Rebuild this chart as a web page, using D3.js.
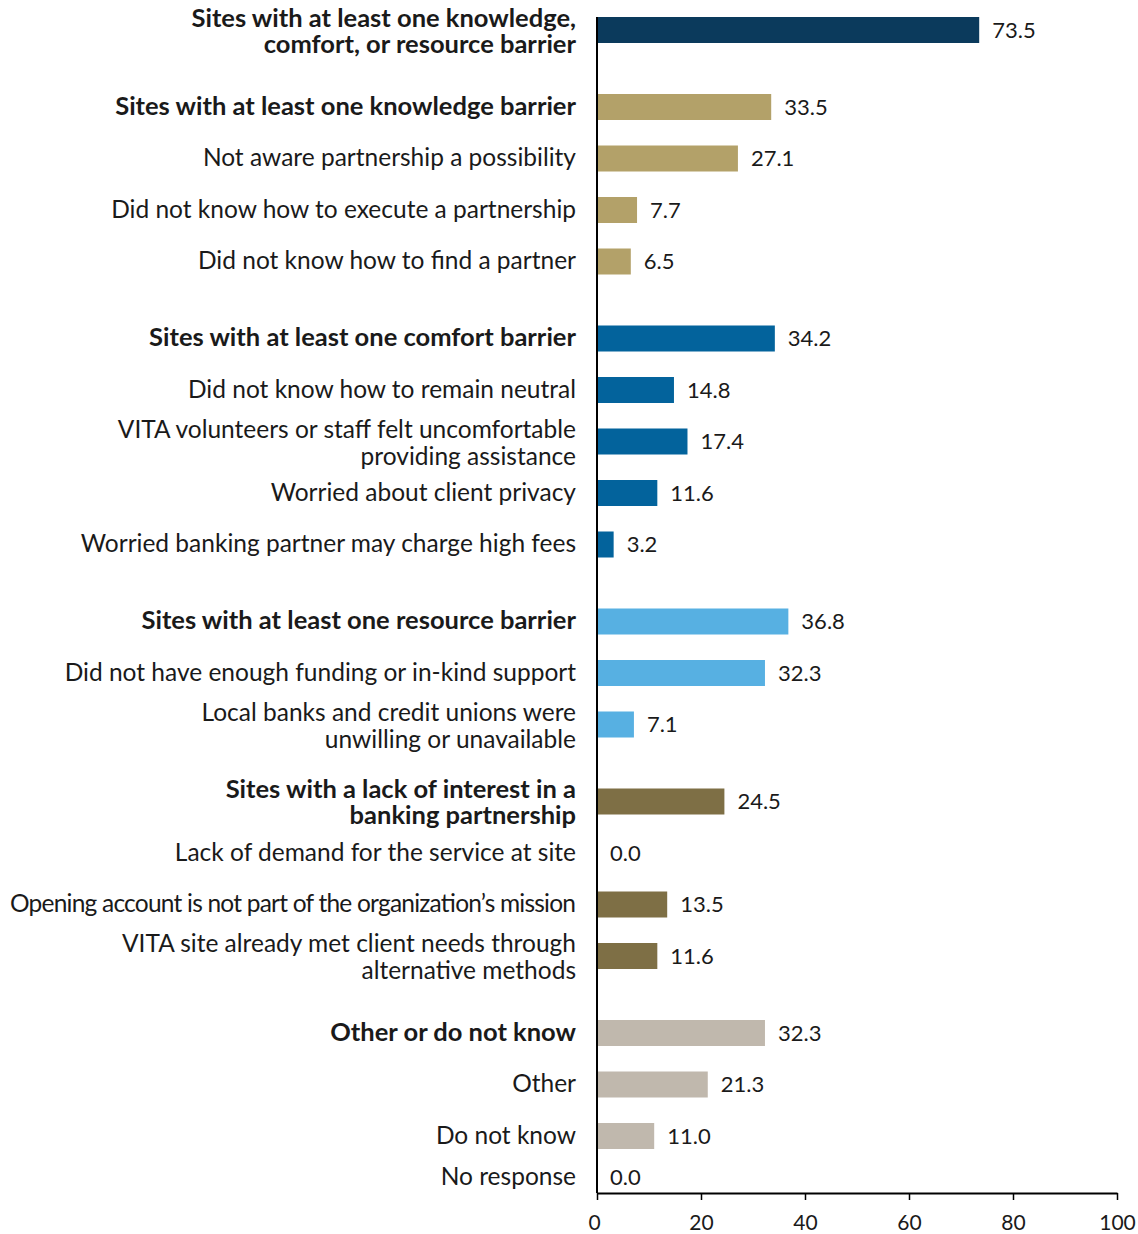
<!DOCTYPE html>
<html lang="en">
<head>
<meta charset="UTF-8">
<title>Barriers to banking partnerships</title>
<script src="https://d3js.org/d3.v7.min.js"></script>
<style>
    body { margin: 0; background: #fff; }
    svg text { font-family: Lato, "Open Sans", sans-serif; fill: #1a1a1a; }
</style>
</head>
<body>
<svg id="chart" width="1138" height="1234"></svg>
<script>
// rows, top to bottom
const labels = [
    "Sites with at least one knowledge,\ncomfort, or resource barrier",
    "Sites with at least one knowledge barrier",
    "Not aware partnership a possibility",
    "Did not know how to execute a partnership",
    "Did not know how to find a partner",
    "Sites with at least one comfort barrier",
    "Did not know how to remain neutral",
    "VITA volunteers or staff felt uncomfortable\nproviding assistance",
    "Worried about client privacy",
    "Worried banking partner may charge high fees",
    "Sites with at least one resource barrier",
    "Did not have enough funding or in-kind support",
    "Local banks and credit unions were\nunwilling or unavailable",
    "Sites with a lack of interest in a\nbanking partnership",
    "Lack of demand for the service at site",
    "Opening account is not part of the organization\u2019s mission",
    "VITA site already met client needs through\nalternative methods",
    "Other or do not know",
    "Other",
    "Do not know",
    "No response"
];
const values = [73.5, 33.5, 27.1, 7.7, 6.5, 34.2, 14.8, 17.4, 11.6, 3.2, 36.8, 32.3, 7.1, 24.5, 0.0, 13.5, 11.6, 32.3, 21.3, 11.0, 0.0];
// which block each row belongs to
const groups = [0, 1, 1, 1, 1, 2, 2, 2, 2, 2, 3, 3, 3, 4, 4, 4, 4, 5, 5, 5, 5];
// summary rows are drawn in bold
const bold = [1, 1, 0, 0, 0, 1, 0, 0, 0, 0, 1, 0, 0, 1, 0, 0, 0, 1, 0, 0, 0];
const groupColors = ["#0b3a5c", "#b3a169", "#03639c", "#57b0e2", "#7e6f45", "#c0b8ad"];
const xTicks = [0, 20, 40, 60, 80, 100];

const svg = d3.select("#chart");
const x0 = 597, x1 = 1117, axisY = 1193;
const step = 51.5, groupGap = 25.5, firstY = 30, barH = 26;

const x = d3.scaleLinear().domain([0, 100]).range([x0, x1]);

// row centre: one step per row plus an extra gap for every new block
const slot = values.map((v, i) => i * step + groups[i] * groupGap);
const y = d3.scaleLinear().domain([0, step]).range([firstY, firstY + step]);
const rowY = i => Math.min(y(slot[i]), axisY - 16);

const rows = values.map((v, i) => ({ label: labels[i], value: v, group: groups[i], bold: bold[i], i }));

// bars
svg.append("g").selectAll("rect")
    .data(rows.filter(d => d.value > 0))
    .join("rect")
    .attr("x", x(0))
    .attr("y", d => rowY(d.i) - barH / 2)
    .attr("width", d => x(d.value) - x(0))
    .attr("height", barH)
    .attr("fill", d => groupColors[d.group]);

// value labels
svg.append("g").selectAll("text")
    .data(rows)
    .join("text")
    .attr("x", d => x(d.value) + 13)
    .attr("y", d => rowY(d.i))
    .attr("dy", "0.36em")
    .style("font-size", "22px")
    .text(d => d.value.toFixed(1));

// category labels
const lab = svg.append("g").selectAll("text")
    .data(rows)
    .join("text")
    .attr("text-anchor", "end")
    .style("font-size", d => d.bold ? "25.5px" : "24.5px")
    .style("font-weight", d => d.bold ? 700 : 400);

lab.each(function(d) {
    const lines = d.label.split("\n");
    const lh = d.bold ? 26 : 27;
    const shift = lines.length > 1 ? 1 : -1;
    const t = d3.select(this);
    lines.forEach((ln, k) => {
        t.append("tspan")
            .attr("x", 576)
            .attr("y", rowY(d.i) + shift + (k - (lines.length - 1) / 2) * lh)
            .attr("dy", "0.35em")
            .text(ln);
    });
    // squeeze lines that would run off the left edge
    t.selectAll("tspan").each(function() {
        const w = this.getComputedTextLength();
        if (w > 566) d3.select(this).attr("textLength", 566).attr("lengthAdjust", "spacing");
    });
});

// y axis line
svg.append("line")
    .attr("x1", x0).attr("x2", x0)
    .attr("y1", 17).attr("y2", axisY)
    .attr("stroke", "#000").attr("stroke-width", 2);

// x axis
const xAxis = svg.append("g")
    .attr("transform", `translate(0,${axisY})`)
    .call(d3.axisBottom(x).tickValues(xTicks).tickSize(7).tickSizeOuter(0).tickFormat(d3.format("d")));
xAxis.select(".domain").attr("stroke", "#000").attr("stroke-width", 2);
xAxis.selectAll(".tick line").attr("stroke", "#000").attr("stroke-width", 1.5);
xAxis.selectAll(".tick text")
    .attr("y", 22)
    .style("font-family", "Lato, sans-serif")
    .style("font-size", "21px")
    .attr("fill", "#1a1a1a");
xAxis.selectAll(".tick").filter(d => d === 0).select("text").attr("dx", -3);
</script>
</body>
</html>
